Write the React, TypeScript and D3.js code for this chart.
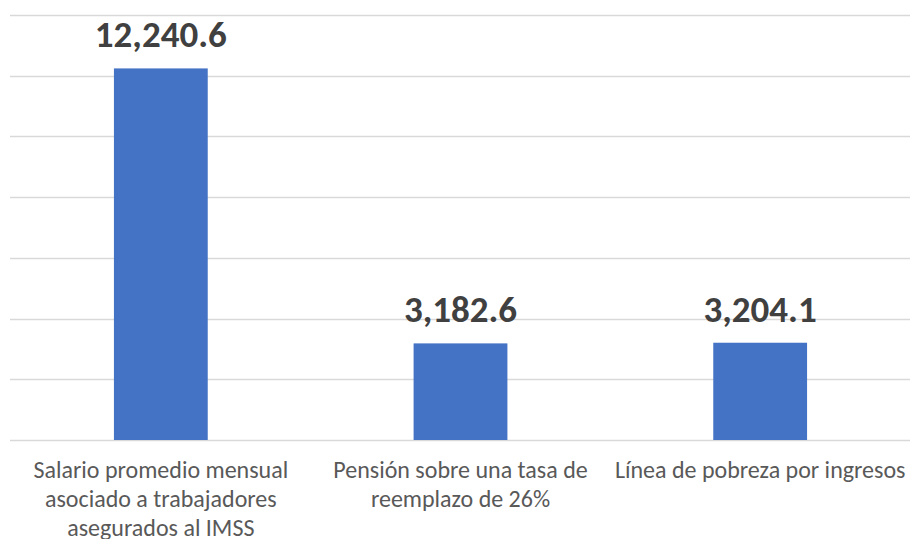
import { useEffect, useRef } from "react";
import * as d3 from "d3";

const categories = [
  "Salario promedio mensual asociado a trabajadores asegurados al IMSS",
  "Pensión sobre una tasa de reemplazo de 26%",
  "Línea de pobreza por ingresos",
];
const labelLines = [
  ["Salario promedio mensual", "asociado a trabajadores", "asegurados al IMSS"],
  ["Pensión sobre una tasa de", "reemplazo de 26%"],
  ["Línea de pobreza por ingresos"],
];
const values = [12240.6, 3182.6, 3204.1];
const yTicks = [0, 2000, 4000, 6000, 8000, 10000, 12000, 14000];

export default function App() {
  const ref = useRef<SVGSVGElement>(null);

  useEffect(() => {
    const svg = d3.select(ref.current);
    svg.selectAll("*").remove();

    const width = 910;
    const height = 539;
    const margin = { top: 15, right: 0, bottom: 99, left: 11 };
    const font = "Carlito, Calibri, Lato, sans-serif";

    const x = d3
      .scaleBand()
      .domain(categories)
      .range([margin.left, width - margin.right])
      .paddingInner(0.687)
      .paddingOuter(0.3435);

    const y = d3
      .scaleLinear()
      .domain([0, 14000])
      .range([height - margin.bottom, margin.top]);

    // gridlines
    svg
      .append("g")
      .selectAll("line")
      .data(yTicks)
      .enter()
      .append("line")
      .attr("x1", margin.left - 1)
      .attr("x2", width - margin.right)
      .attr("y1", (d) => Math.round(y(d)) + 0.5)
      .attr("y2", (d) => Math.round(y(d)) + 0.5)
      .attr("stroke", "#d9d9d9")
      .attr("stroke-width", 1.5);

    // bars
    svg
      .append("g")
      .selectAll("rect")
      .data(values)
      .enter()
      .append("rect")
      .attr("x", (d, i) => x(categories[i])!)
      .attr("y", (d) => y(d))
      .attr("width", x.bandwidth())
      .attr("height", (d) => y(0) - y(d))
      .attr("fill", "#4472c4");

    // value labels
    svg
      .append("g")
      .selectAll("text")
      .data(values)
      .enter()
      .append("text")
      .attr("x", (d, i) => x(categories[i])! + x.bandwidth() / 2)
      .attr("y", (d) => y(d) - 21)
      .attr("text-anchor", "middle")
      .attr("font-family", font)
      .attr("font-size", "37px")
      .attr("font-weight", "bold")
      .attr("fill", "#404040")
      .text((d) => d3.format(",.1f")(d));

    // category labels
    const cat = svg
      .append("g")
      .selectAll("text")
      .data(categories)
      .enter()
      .append("text")
      .attr("x", (d) => x(d)! + x.bandwidth() / 2)
      .attr("y", y(0) + 38)
      .attr("text-anchor", "middle")
      .attr("font-family", font)
      .attr("font-size", "24px")
      .attr("fill", "#595959");

    cat
      .selectAll("tspan")
      .data((d, i) => labelLines[i])
      .enter()
      .append("tspan")
      .attr("x", function () {
        return (this as any).parentNode.getAttribute("x");
      })
      .attr("dy", (d, i) => (i === 0 ? 0 : 29))
      .text((d) => d);
  }, []);

  return (
    <svg
      ref={ref}
      width={910}
      height={539}
      style={{ position: "absolute", left: 0, top: 0, background: "#fff" }}
    />
  );
}
